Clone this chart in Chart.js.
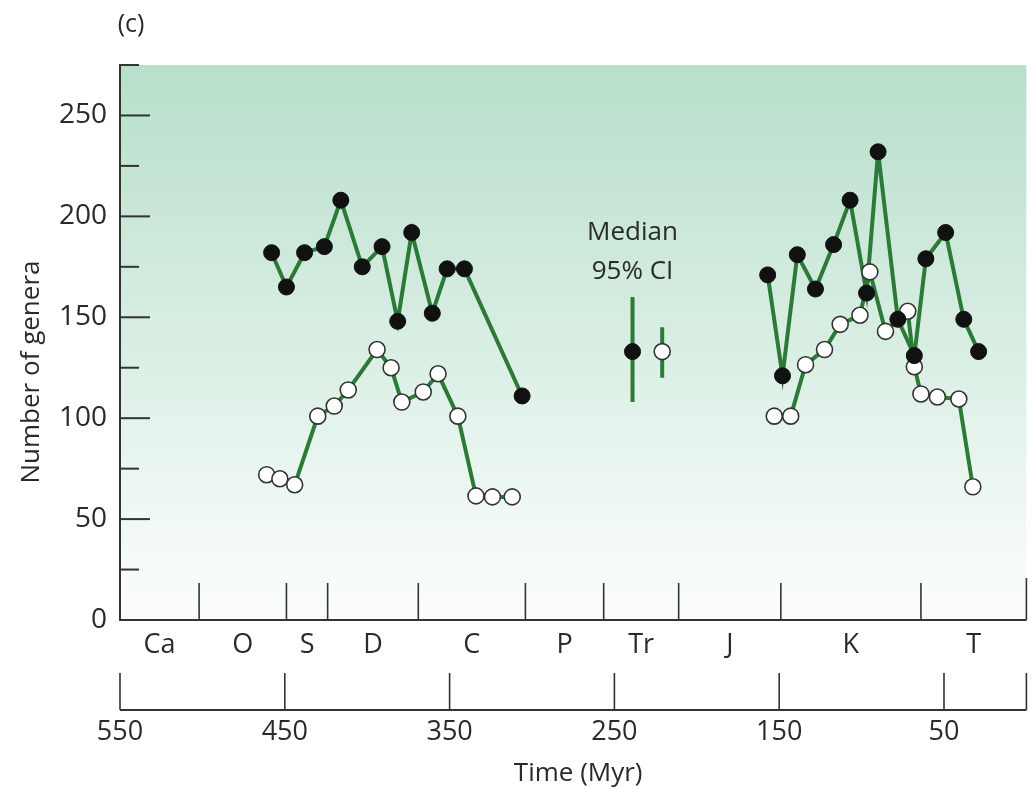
<!DOCTYPE html>
<html lang="en">
<head>
  <meta charset="UTF-8" />
  <title>Number of genera through time (c)</title>
  <script src="https://cdn.jsdelivr.net/npm/chart.js"></script>
  <style>
    * {
      margin: 0;
      padding: 0;
      box-sizing: border-box;
    }

    body {
      background: #ffffff;
      font-family: 'Open Sans', sans-serif;
    }

    .chart-box {
      position: relative;
      width: 1036px;
      height: 796px;
    }
  </style>
</head>
<body>
  <div class="chart-box"><canvas id="generaChart"></canvas></div>

  <script>
    // Palaeozoic run (Myr ago / number of genera)
    const paleoFilledAge = [458, 449, 438, 426, 416, 403, 391, 381.5, 373, 360.5, 351.5, 341, 306];
    const paleoFilledGenera = [182, 165, 182, 185, 208, 175, 185, 148, 192, 152, 174, 174, 111];
    const paleoOpenAge = [461, 453, 444, 430, 420, 411.5, 394, 385.5, 379, 366, 357, 345, 334, 324, 312];
    const paleoOpenGenera = [72, 70, 67, 101, 106, 114, 134, 125, 108, 113, 122, 101, 61.5, 61, 61];

    // Jurassic to Tertiary run
    const mesoFilledAge = [157, 148, 139, 128, 117, 107, 97, 90, 78, 68, 61, 49, 38, 29];
    const mesoFilledGenera = [171, 121, 181, 164, 186, 208, 162, 232, 149, 131, 179, 192, 149, 133];
    const mesoOpenAge = [153, 143, 134, 122.5, 113, 101, 95, 85.5, 72, 68, 64, 54, 41, 32.5];
    const mesoOpenGenera = [101, 101, 126.5, 134, 146.5, 151, 172.5, 143, 153, 125.5, 112, 110.5, 109.5, 66];

    // key: median with 95% CI, filled then open
    const ciAge = [239, 221];
    const ciMedian = [133, 133];
    const ciLow = [108, 120];
    const ciHigh = [160, 145];

    // geological periods (boundaries as drawn, Myr)
    const periodNames = ['Ca', 'O', 'S', 'D', 'C', 'P', 'Tr', 'J', 'K', 'T'];
    const periodBounds = [550, 502, 449, 424, 369, 304, 256.5, 211, 149, 64, 0];
    const timeTicks = [550, 450, 350, 250, 150, 50];

    const lineGreen = '#2c7a37';
    const inkColor = '#2a2a2a';
    const fontName = "'Open Sans', sans-serif";

    const pts = (xs, ys) => xs.map((x, i) => ({ x: x, y: ys[i] }));

    function lineSet(xs, ys) {
      return {
        data: pts(xs, ys),
        showLine: true,
        borderColor: lineGreen,
        borderWidth: 4,
        pointRadius: 0,
        tension: 0,
        order: 3
      };
    }

    function pointSet(xs, ys, filled) {
      return {
        data: pts(xs, ys),
        showLine: false,
        pointRadius: 8,
        pointBackgroundColor: filled ? '#111111' : '#ffffff',
        pointBorderColor: filled ? '#111111' : '#333333',
        pointBorderWidth: filled ? 1 : 1.6,
        order: filled ? 1 : 2
      };
    }

    const datasets = [
      lineSet(paleoFilledAge, paleoFilledGenera),
      lineSet(paleoOpenAge, paleoOpenGenera),
      lineSet(mesoFilledAge, mesoFilledGenera),
      lineSet(mesoOpenAge, mesoOpenGenera),
      pointSet(paleoOpenAge, paleoOpenGenera, false),
      pointSet(mesoOpenAge, mesoOpenGenera, false),
      pointSet(paleoFilledAge, paleoFilledGenera, true),
      pointSet(mesoFilledAge, mesoFilledGenera, true)
    ];

    // confidence bars with their medians
    ciAge.forEach((age, i) => {
      datasets.push(lineSet([age, age], [ciLow[i], ciHigh[i]]));
      datasets.push(pointSet([age], [ciMedian[i]], i === 0));
    });

    function text(ctx, str, x, y, size) {
      ctx.font = size + 'px ' + fontName;
      ctx.fillStyle = inkColor;
      ctx.textAlign = 'center';
      ctx.textBaseline = 'middle';
      ctx.fillText(str, x, y);
    }

    const decor = {
      id: 'decor',
      beforeDraw(chart) {
        const { ctx, chartArea: a } = chart;
        const g = ctx.createLinearGradient(0, a.top, 0, a.bottom);
        g.addColorStop(0, '#b7dfca');
        g.addColorStop(0.5, '#d9eee3');
        g.addColorStop(0.9, '#f6fbf8');
        g.addColorStop(1, '#fafdfb');
        ctx.save();
        ctx.fillStyle = g;
        ctx.fillRect(a.left, a.top, a.right - a.left, a.bottom - a.top);
        ctx.restore();
      },
      beforeDatasetsDraw(chart) {
        const { ctx, chartArea: a, scales } = chart;
        const xs = scales.x, ys = scales.y;
        ctx.save();
        ctx.strokeStyle = '#333333';
        ctx.lineWidth = 2;

        // inward y ticks
        ys.ticks.forEach(t => {
          if (t.value === 0) return;
          const y = ys.getPixelForValue(t.value);
          const len = t.value % 50 === 0 ? 30 : 19;
          ctx.beginPath();
          ctx.moveTo(a.left, y);
          ctx.lineTo(a.left + len, y);
          ctx.stroke();
        });

        // period axis
        ctx.beginPath();
        ctx.moveTo(a.left, a.bottom);
        ctx.lineTo(a.right, a.bottom);
        ctx.stroke();
        ctx.lineWidth = 1.6;
        periodBounds.slice(1).forEach(b => {
          const x = xs.getPixelForValue(b);
          ctx.beginPath();
          ctx.moveTo(x, a.bottom);
          ctx.lineTo(x, a.bottom - (b === 0 ? 42 : 37));
          ctx.stroke();
        });
        ctx.restore();
      },
      afterDraw(chart) {
        const { ctx, chartArea: a, scales } = chart;
        const xs = scales.x, ys = scales.y;
        ctx.save();

        // period names between the boundaries
        periodNames.forEach((name, i) => {
          const mid = (periodBounds[i] + periodBounds[i + 1]) / 2;
          text(ctx, name, xs.getPixelForValue(mid), a.bottom + 25, 27);
        });

        // time axis underneath
        const axisY = a.bottom + 90;
        ctx.strokeStyle = '#333333';
        ctx.lineWidth = 2;
        ctx.beginPath();
        ctx.moveTo(a.left, axisY);
        ctx.lineTo(a.right, axisY);
        ctx.stroke();
        ctx.lineWidth = 1.6;
        timeTicks.concat([0]).forEach(v => {
          const x = xs.getPixelForValue(v);
          ctx.beginPath();
          ctx.moveTo(x, axisY);
          ctx.lineTo(x, axisY - 37);
          ctx.stroke();
        });
        timeTicks.forEach(v => {
          text(ctx, String(v), xs.getPixelForValue(v), axisY + 22, 27);
        });
        text(ctx, 'Time (Myr)', (a.left + a.right) / 2 + 5, axisY + 64, 26);

        // y title
        ctx.save();
        ctx.translate(32, 372);
        ctx.rotate(-Math.PI / 2);
        text(ctx, 'Number of genera', 0, 0, 26);
        ctx.restore();

        // panel letter
        text(ctx, '(c)', 131, 25, 25);

        // key label above the CI bars
        const keyX = xs.getPixelForValue(ciAge[0]);
        const keyTop = ys.getPixelForValue(ciHigh[0]);
        text(ctx, 'Median', keyX, keyTop - 64, 26);
        text(ctx, '95% CI', keyX, keyTop - 25, 26);

        ctx.restore();
      }
    };

    new Chart(document.getElementById('generaChart'), {
      type: 'scatter',
      data: { datasets: datasets },
      options: {
        responsive: true,
        maintainAspectRatio: false,
        animation: false,
        events: [],
        layout: { padding: { top: 65, right: 5, bottom: 176, left: 0 } },
        plugins: {
          legend: { display: false },
          tooltip: { enabled: false }
        },
        scales: {
          x: {
            type: 'linear',
            display: false,
            min: 0,
            max: 550,
            reverse: true
          },
          y: {
            min: 0,
            max: 275,
            afterFit: s => { s.width = 120; },
            grid: { display: false, drawTicks: false },
            border: { display: true, color: '#333333', width: 2 },
            ticks: {
              stepSize: 25,
              padding: 13,
              color: inkColor,
              font: { family: fontName, size: 28 },
              callback: v => (v % 50 === 0 ? v : '')
            }
          }
        }
      },
      plugins: [decor]
    });
  </script>
</body>
</html>
